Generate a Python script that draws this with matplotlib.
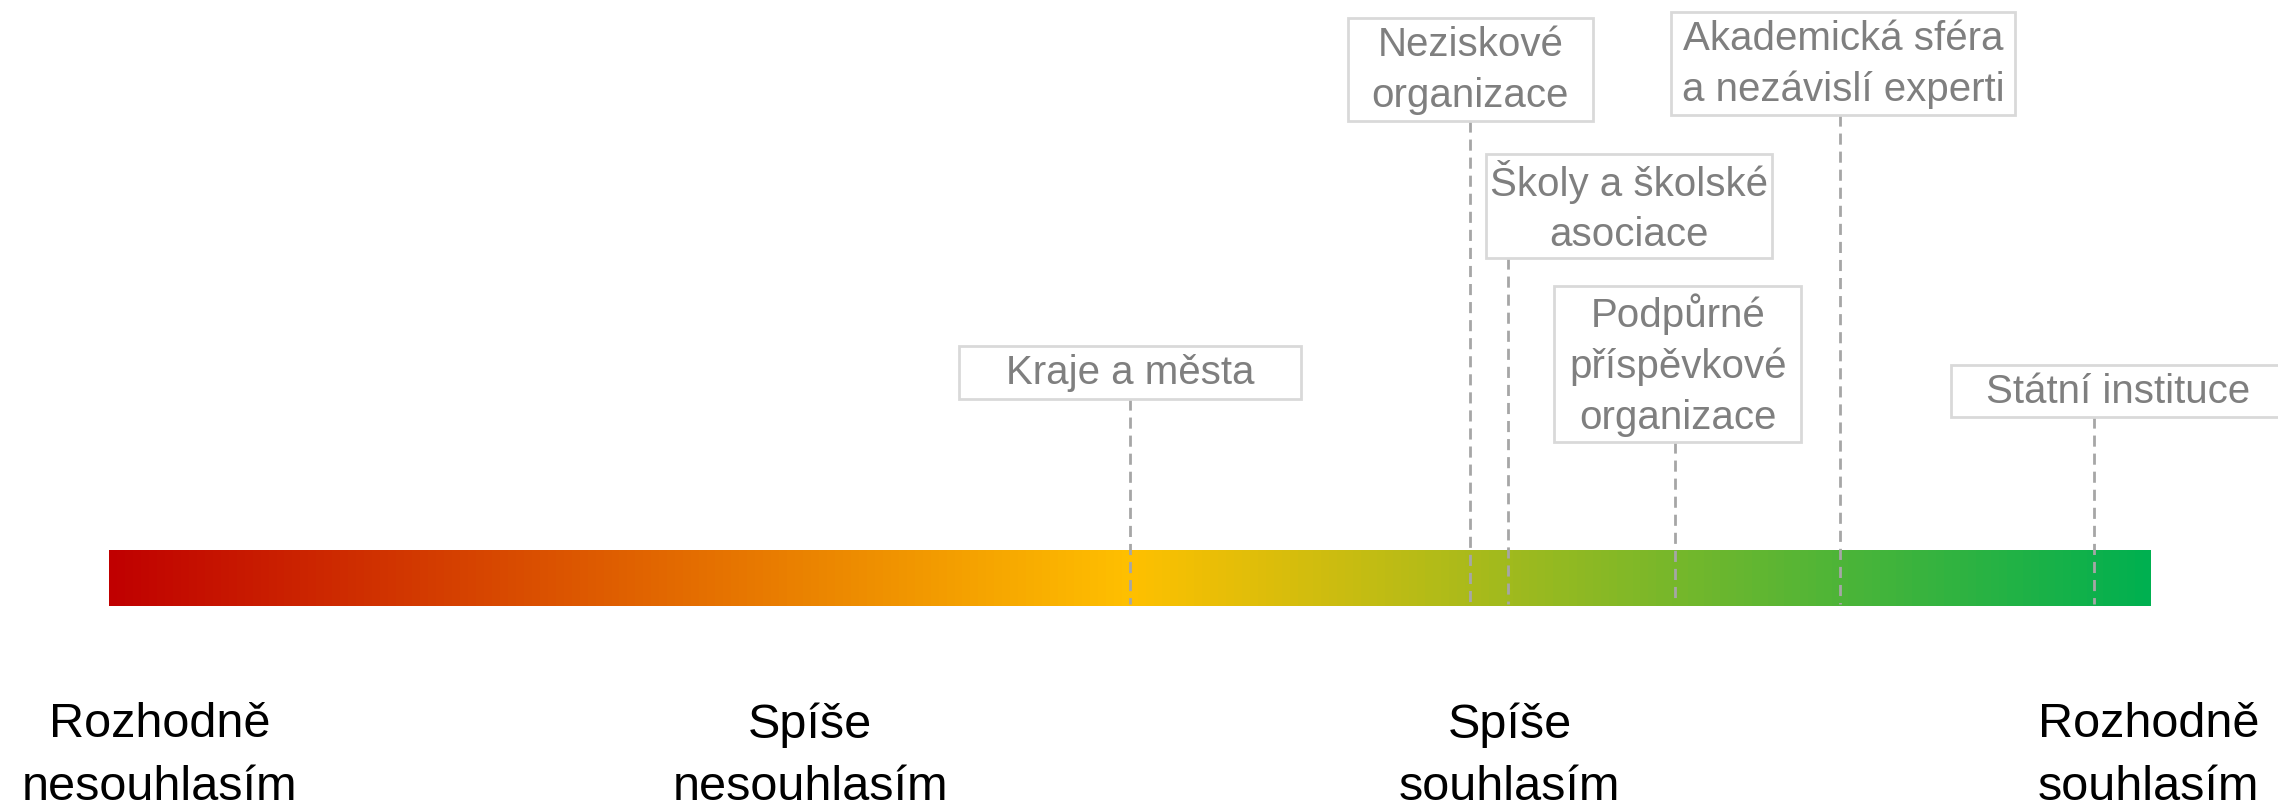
import numpy as np
import matplotlib.pyplot as plt
from matplotlib.colors import LinearSegmentedColormap
from matplotlib.patches import Rectangle

plt.rcParams['font.family'] = ['Liberation Sans', 'DejaVu Sans']

# scale 1 (rozhodne nesouhlasim) .. 4 (rozhodne souhlasim)
groups = ['Kraje a města', 'Neziskové\norganizace', 'Školy a školské\nasociace',
          'Podpůrné\npříspěvkové\norganizace', 'Akademická sféra\na nezávislí experti',
          'Státní instituce']
scores = [2.50, 3.00, 3.055, 3.30, 3.543, 3.916]
scale_labels = ['Rozhodně\nnesouhlasím', 'Spíše\nnesouhlasím', 'Spíše\nsouhlasím', 'Rozhodně\nsouhlasím']
scale_pos = [1.075, 2.030, 3.058, 3.996]
bar_colors = ['#C00000', '#FFC000', '#00B050']

# label box layout (pixels from top; x offset/width in scale units)
box_top = [346, 18, 154, 286, 12, 365]
box_bottom = [399, 121, 258, 442, 115, 417]
box_shift = [0.0, 0.0, 0.178, 0.005, 0.005, 0.035]
box_width = [0.502, 0.360, 0.420, 0.363, 0.505, 0.49]

W, H = 2278, 808
fig = plt.figure(figsize=(W / 100, H / 100), dpi=100)
ax = fig.add_axes([0, 0, 1, 1])
unit = 2042 / 3.0  # pixels per scale unit
ax.set_xlim(1 - 109 / unit, 4 + (W - 2151) / unit)
ax.set_ylim(H, 0)
ax.axis('off')

# gradient bar
cmap = LinearSegmentedColormap.from_list('agree', bar_colors)
grad = np.linspace(0, 1, 512).reshape(1, -1)
ax.imshow(grad, cmap=cmap, extent=(1, 4, 606, 550), aspect='auto', zorder=1)

for name, s, top, bot, sh, bw in zip(groups, scores, box_top, box_bottom, box_shift, box_width):
    cx = s + sh
    ax.add_patch(Rectangle((cx - bw / 2, top), bw, bot - top, facecolor='white',
                           edgecolor='#d9d9d9', linewidth=2, zorder=3, clip_on=True))
    ax.text(cx, (top + bot) / 2 + 1, name, ha='center', va='center', multialignment='center',
            fontsize=29, color='#7f7f7f', linespacing=1.42, zorder=4)
    ax.plot([s, s], [bot, 604], color='#a6a6a6', linewidth=2, dashes=(4, 2.5), zorder=2)

for lab, p in zip(scale_labels, scale_pos):
    ax.text(p, 702, lab, ha='center', va='top', multialignment='center',
            fontsize=35, color='black', linespacing=1.5)

fig.savefig('out.png', dpi=100, facecolor='white')
